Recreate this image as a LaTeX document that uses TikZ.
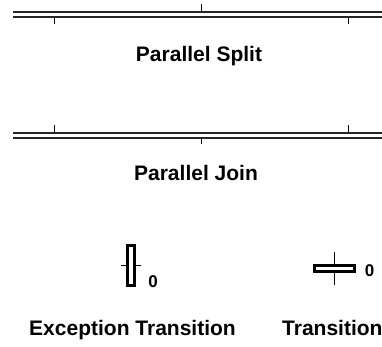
\documentclass[tikz,border=0pt]{standalone}
\usepackage{fontspec}
\setmainfont{Liberation Sans}

\begin{document}
\begin{tikzpicture}[x=1pt, y=-1pt,
  bar/.style={line width=1.6pt, draw=black!85},
  notch/.style={line width=1pt},
  trans/.style={draw, fill=white, line width=3pt, inner sep=0pt},
  caption/.style={font=\fontsize{21}{25}\selectfont\bfseries, anchor=base, inner sep=0pt},
  count/.style={font=\fontsize{17}{20}\selectfont\bfseries, inner sep=0pt}]
\useasboundingbox (0,0) rectangle (382,347);

% split bar: one branch in, three out
\coordinate (splitL) at (13,12);
\coordinate (splitR) at (395,12);
\draw[bar] (splitL) -- (splitR);
\draw[bar] ([yshift=-5pt]splitL) -- ([yshift=-5pt]splitR);
\draw[notch] (201,4) -- (201,12);
\draw[notch] (54,17) -- (54,24);
\draw[notch] (348,17) -- (348,24);
\node[caption] (split) at (199,61.5) {Parallel Split};

% join bar: three branches in, one out
\coordinate (joinL) at (13,133);
\coordinate (joinR) at (395,133);
\draw[bar] (joinL) -- (joinR);
\draw[bar] ([yshift=-5pt]joinL) -- ([yshift=-5pt]joinR);
\draw[notch] (54,125) -- (54,133);
\draw[notch] (348,125) -- (348,133);
\draw[notch] (201,138) -- (201,144);
\node[caption] (join) at (196,181) {Parallel Join};

% exception transition (upright)
\coordinate (exc) at (131,265.5);
\draw[notch] ([xshift=-10pt]exc) -- ([xshift=10pt]exc);
\node[trans, minimum width=6.5pt, minimum height=40.5pt] (excbox) at (exc) {};
\node[count] (exccount) at (153,282) {0};
\node[caption] (exclabel) at (132.5,335) {Exception Transition};

% ordinary transition (lying)
\coordinate (tr) at (334.5,268.5);
\draw[notch] ([yshift=-16pt]tr) -- ([yshift=17pt]tr);
\node[trans, minimum width=40.5pt, minimum height=6.5pt] (trbox) at (tr) {};
\node[count] (trcount) at (369.5,270.5) {0};
\node[caption, anchor=base west] (trlabel) at (282,335) {Transition};
\end{tikzpicture}
\end{document}
